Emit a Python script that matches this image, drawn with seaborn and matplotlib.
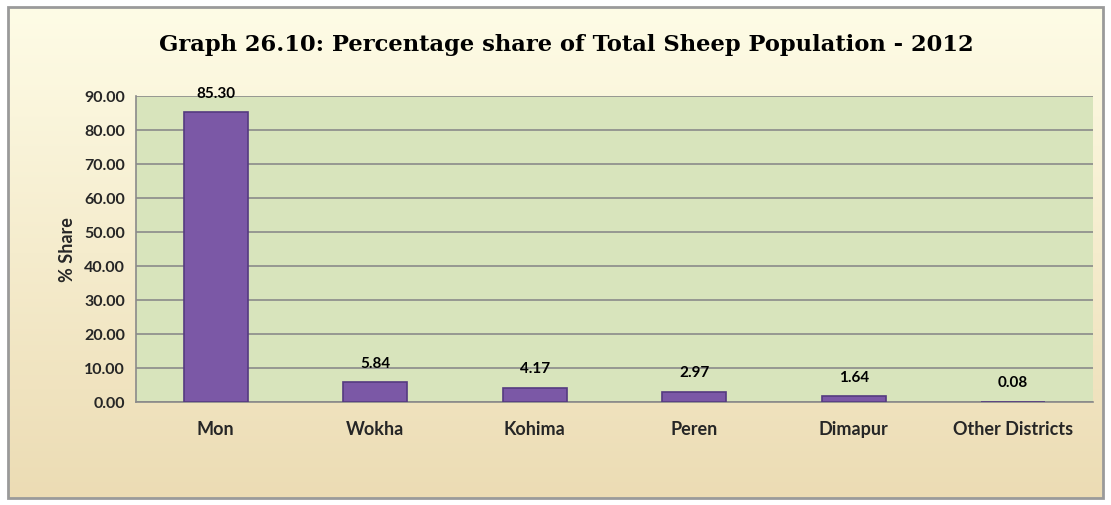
import numpy as np
import pandas as pd
import matplotlib
matplotlib.use("Agg")
import matplotlib.pyplot as plt
import seaborn as sns
from matplotlib.patches import Rectangle

categories = ["Mon", "Wokha", "Kohima", "Peren", "Dimapur", "Other Districts"]
values = [85.30, 5.84, 4.17, 2.97, 1.64, 0.08]
yticks = [0, 10, 20, 30, 40, 50, 60, 70, 80, 90]
title = "Graph 26.10: Percentage share of Total Sheep Population - 2012"
ylabel = "% Share"

sns.set_theme(style="white")
plt.rcParams['font.family'] = ['Lato', 'DejaVu Sans']

fig = plt.figure(figsize=(11.11, 5.06), dpi=100)
fig.patch.set_facecolor("white")

# background gradient panel
bg = fig.add_axes([0, 0, 1, 1], zorder=0)
bg.set_xlim(0, 1111)
bg.set_ylim(506, 0)
bg.axis("off")
top_c = np.array([254, 252, 230]) / 255
bot_c = np.array([236, 220, 180]) / 255
t = np.linspace(0, 1, 256)[:, None]
grad = top_c[None, :] * (1 - t) + bot_c[None, :] * t
grad = np.repeat(grad[:, None, :], 2, axis=1)
bg.imshow(grad, extent=[9, 1103, 499, 9], aspect="auto", zorder=1)
bg.add_patch(Rectangle((8, 8), 1095, 491, fill=False, edgecolor="#9a9a9a", lw=2.0, zorder=2))

ax = fig.add_axes([136 / 1111, 1 - 403 / 506, (1093 - 136) / 1111, (403 - 97) / 506], zorder=2)
df = pd.DataFrame({"District": categories, "Share": values})
sns.barplot(data=df, x="District", y="Share", ax=ax, color="#7B58A6", width=0.4,
            edgecolor="#553A80", linewidth=1.2, saturation=1, zorder=3)
ax.set_facecolor("#D8E4BC")
ax.set_ylim(0, 90)
ax.set_xlim(-0.5, len(categories) - 0.5)
ax.set_yticks(yticks)
ax.set_yticklabels([f"{v:.2f}" for v in yticks], fontsize=11.5, fontweight="bold")
ax.set_xticks(range(len(categories)))
ax.set_xticklabels(categories, fontsize=13, fontweight="bold")
ax.set_xticks(np.arange(-0.5, len(categories)), minor=True)
ax.tick_params(axis="x", which="major", length=0, pad=13)
ax.tick_params(axis="x", which="minor", length=5, color="#8a8a8a", width=1.2, direction="out")
ax.tick_params(axis="y", length=5, color="#8a8a8a", width=1.2, direction="out", pad=3)
ax.yaxis.grid(True, color="#8a8a8a", lw=1.2, zorder=1)
ax.set_axisbelow(True)
for s in ["top", "right"]:
    ax.spines[s].set_visible(False)
for s in ["left", "bottom"]:
    ax.spines[s].set_color("#8a8a8a")
    ax.spines[s].set_linewidth(1.2)
ax.set_xlabel("")
ax.set_ylabel(ylabel, fontsize=13, fontweight="bold", labelpad=6)

for i, v in enumerate(values):
    ax.annotate(f"{v:.2f}", (i, v), xytext=(0, 14), textcoords="offset points",
                ha="center", va="center", fontsize=11, fontweight="bold", color="black")

fig.text(566 / 1111, 1 - 45 / 506, title, ha="center", va="center",
         fontsize=16.3, fontweight="bold", family=["DejaVu Serif"], color="black")

fig.savefig("out.png", dpi=100)
